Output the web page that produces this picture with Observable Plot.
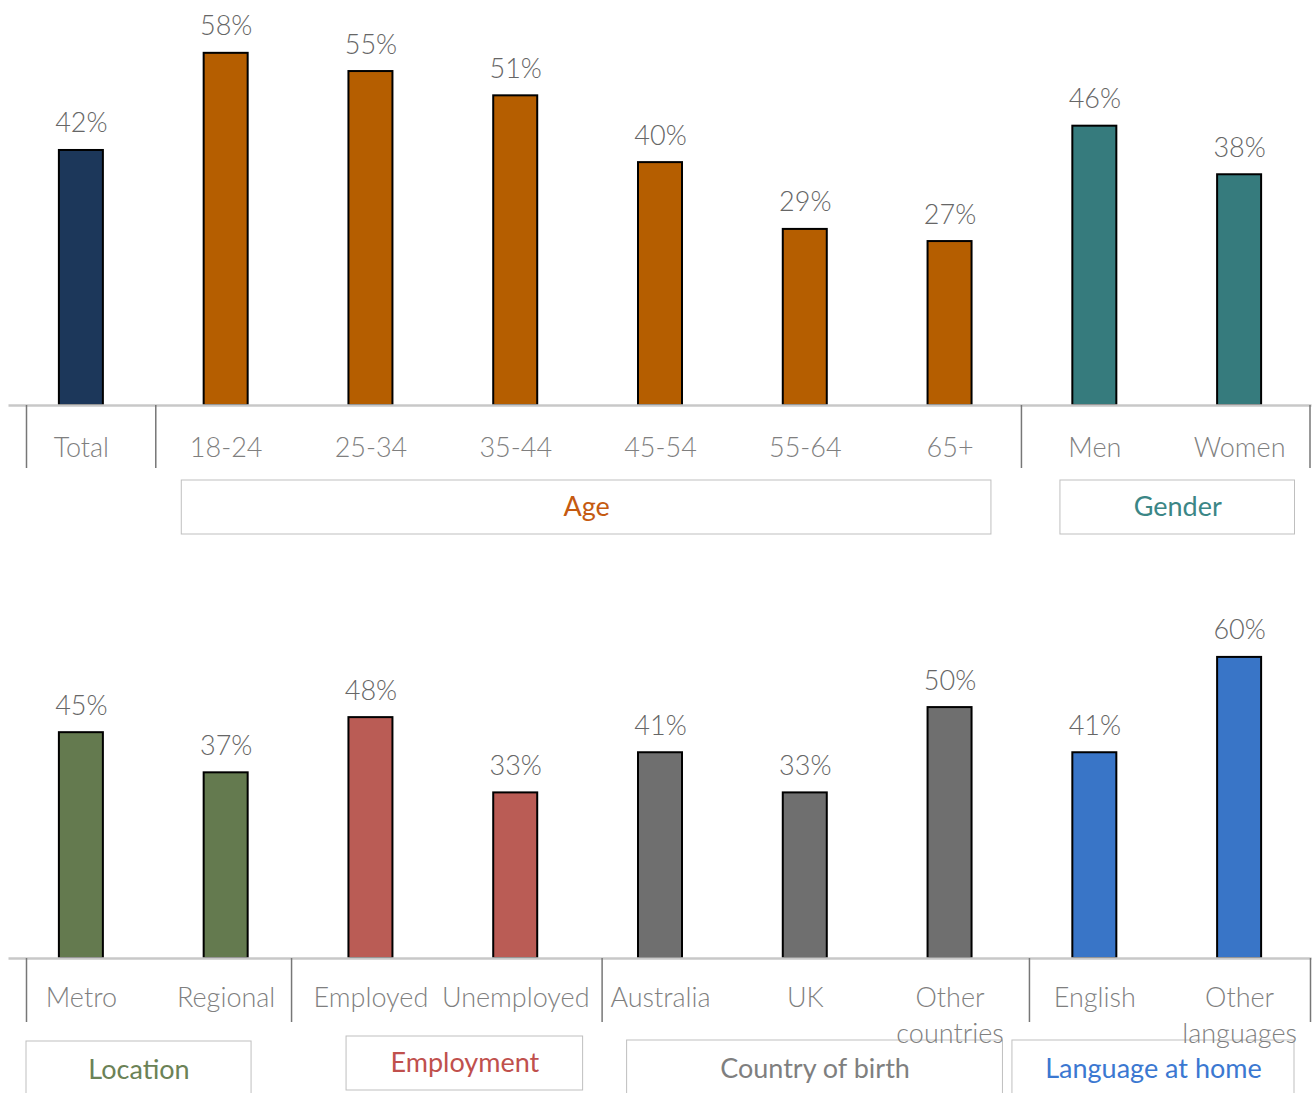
<!DOCTYPE html>
<html><head><meta charset="utf-8">
<script src="https://cdn.jsdelivr.net/npm/d3@7"></script>
<script src="https://cdn.jsdelivr.net/npm/@observablehq/plot@0.6"></script>
<style>
html,body{margin:0;padding:0;background:#fff;overflow:hidden}
#chart svg{display:block}
</style></head><body><div id="chart"></div>
<script>
// ---- data ----
const topCategories = ["Total","18-24","25-34","35-44","45-54","55-64","65+","Men","Women"];
const topValues = [42,58,55,51,40,29,27,46,38];
const topGroups = ["Total","Age","Age","Age","Age","Age","Age","Gender","Gender"];

const bottomCategories = ["Metro","Regional","Employed","Unemployed","Australia","UK","Other countries","English","Other languages"];
const bottomValues = [45,37,48,33,41,33,50,41,60];
const bottomGroups = ["Location","Location","Employment","Employment","Country of birth","Country of birth","Country of birth","Language at home","Language at home"];

// ---- styles ----
const groupNames = ["Total","Age","Gender","Location","Employment","Country of birth","Language at home"];
const barColors  = ["#1c375a","#b55e00","#367b7d","#647a4f","#ba5c55","#6f6f6f","#3975c7"];
const labelColors = {"Age":"#c55a11","Gender":"#3b8686","Location":"#6b8256","Employment":"#c0504d","Country of birth":"#7f7f7f","Language at home":"#3b78d1"};
// box layout (px insets from group extents, px below baseline)
const boxLayout = {
  "Age":{l:28,r:31,t:75,b:129},
  "Gender":{l:38,r:17,t:75,b:129},
  "Location":{l:17.5,r:47,t:83,b:140},
  "Employment":{l:48,r:5,t:78,b:132},
  "Country of birth":{l:39,r:19.5,t:82,b:140},
  "Language at home":{l:-10,r:17.5,t:82,b:140}
};

const FONT = "'Segoe UI', Lato, 'Open Sans', sans-serif";
const W = 1316, ML = 8.5, MR = 4.5;
const unit = (W - ML - MR) / 9;

function panel({categories, values, groups, height, marginBottom, yMax, labelDy, sepLen, lineWidth, sepShift}) {
  const rows = categories.map((c, i) => ({c, v: values[i], g: groups[i], i}));
  const pxPerY = (height - marginBottom) / yMax;
  const yPx = px => -px / pxPerY;
  const xPx = px => px / unit;
  const spans = [];
  rows.forEach(r => {
    let s = spans.find(s => s.g === r.g);
    if (!s) spans.push({g: r.g, first: r.i, last: r.i}); else s.last = r.i;
  });
  const bounds = spans.map(s => s.first - 0.5).concat([spans[spans.length - 1].last + 0.5]);
  const seps = bounds.map((b, k) => b + xPx(sepShift[k] || 0));
  const boxes = spans.filter(s => boxLayout[s.g]).map(s => {
    const L = boxLayout[s.g];
    const x1 = s.first - 0.5 + xPx(L.l), x2 = s.last + 0.5 - xPx(L.r);
    return {g: s.g, x1, x2, xm: (x1 + x2) / 2, y1: yPx(L.t), y2: yPx(L.b), ym: yPx((L.t + L.b) / 2)};
  });
  const hw = 22 / unit;
  const marks = [
    Plot.rectY(rows, {x1: d => d.i - hw, x2: d => d.i + hw, y: "v", fill: "g", stroke: "#000", strokeWidth: 2}),
    Plot.ruleY([0], {stroke: "#c8c8c8", strokeWidth: 2.5}),
    Plot.ruleX(seps, {x: d => d, y1: 0, y2: yPx(sepLen), stroke: "#777", strokeWidth: 1.5}),
    Plot.rect(boxes, {x1: "x1", x2: "x2", y1: "y1", y2: "y2", fill: "white", stroke: "#bfbfbf", strokeWidth: 1}),
    Plot.text(rows, {x: "i", y: "v", text: d => d.v + "%", dy: -18, lineAnchor: "bottom", fill: "#666", fontSize: 27, fontFamily: FONT, fontWeight: 300}),
    Plot.text(rows, {x: "i", y: 0, text: "c", dy: labelDy, lineAnchor: "top", fill: "#7f7f7f", fontSize: 27, fontFamily: FONT, fontWeight: 300, lineWidth, lineHeight: 1.33})
  ];
  boxes.forEach(b => marks.push(Plot.text([b], {x: "xm", y: "ym", text: "g", fill: labelColors[b.g], fontSize: 27, fontFamily: FONT, fontWeight: 400})));
  return Plot.plot({
    width: W, height,
    marginLeft: ML, marginRight: MR, marginTop: 0, marginBottom,
    x: {type: "linear", domain: [-0.5, 8.5], axis: null},
    y: {domain: [0, yMax], axis: null},
    color: {domain: groupNames, range: barColors},
    style: {background: "white", overflow: "visible"},
    marks
  });
}

const chart = document.getElementById("chart");
chart.append(panel({categories: topCategories, values: topValues, groups: topGroups,
  height: 545, marginBottom: 140, yMax: 66.7, labelDy: 26, sepLen: 63, sepShift: [17.5, 2, -1, -2]}));
chart.append(panel({categories: bottomCategories, values: bottomValues, groups: bottomGroups,
  height: 548, marginBottom: 135, yMax: 82.3, labelDy: 23, sepLen: 64, lineWidth: 5.5, sepShift: [17.5, -7, 14, 7, -1.5]}));
</script>
</body></html>
